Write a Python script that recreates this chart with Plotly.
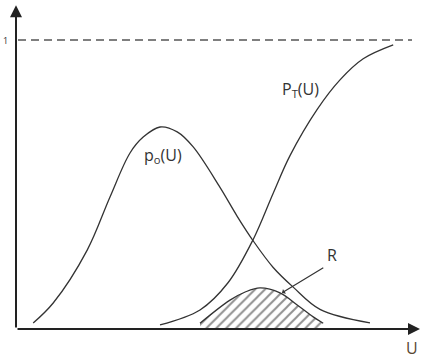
import plotly.graph_objects as go

# p_o(U) curve
u_p0 = [0.43, 0.93, 1.78, 2.35, 2.85, 3.18, 3.6, 4.03, 4.43, 5.1, 5.53, 5.93, 6.43, 6.93, 7.6, 8.85]
p0 = [0.021, 0.09, 0.273, 0.457, 0.609, 0.664, 0.699, 0.682, 0.63, 0.49, 0.39, 0.305, 0.213, 0.145, 0.068, 0.021]

# P_T(U) curve
u_pt = [3.6, 4.6, 5.3, 5.93, 6.43, 6.85, 7.53, 8.1, 8.68, 9.43]
pt = [0.014, 0.066, 0.16, 0.31, 0.47, 0.6, 0.76, 0.862, 0.935, 0.983]

# hatched region R
u_r = [4.6, 5.35, 5.73, 6.1, 6.6, 7.03, 7.43, 7.68]
r = [0.02, 0.10, 0.128, 0.142, 0.125, 0.083, 0.042, 0.02]

LINE = "#333333"
AX = "#555555"

fig = go.Figure()
fig.add_trace(go.Scatter(x=u_r, y=r, mode="lines", line=dict(color=LINE, width=1.3, shape="spline"),
                         fill="tozeroy", fillcolor="rgba(0,0,0,0)",
                         fillpattern=dict(shape="/", size=7, solidity=0.28, fgcolor="#222", bgcolor="rgba(0,0,0,0)"),
                         hoverinfo="skip"))
fig.add_trace(go.Scatter(x=u_p0, y=p0, mode="lines", line=dict(color=LINE, width=1.3, shape="spline"), hoverinfo="skip"))
fig.add_trace(go.Scatter(x=u_pt, y=pt, mode="lines", line=dict(color=LINE, width=1.3, shape="spline"), hoverinfo="skip"))

# dashed line at 1
fig.add_trace(go.Scatter(x=[0.05, 9.9], y=[1, 1], mode="lines", line=dict(color=AX, width=1.5, dash="8px,5px"), hoverinfo="skip"))

ann = []
# axes arrows
ann.append(dict(x=0, y=1.12, ax=0, ay=0, xref="x", yref="y", axref="x", ayref="y", text="",
                showarrow=True, arrowhead=2, arrowsize=1.2, arrowwidth=2, arrowcolor="#222"))
ann.append(dict(x=10.1, y=0, ax=0, ay=0, xref="x", yref="y", axref="x", ayref="y", text="",
                showarrow=True, arrowhead=2, arrowsize=1.2, arrowwidth=2, arrowcolor="#222"))
# R pointer
ann.append(dict(x=6.65, y=0.125, ax=7.72, ay=0.215, xref="x", yref="y", axref="x", ayref="y", text="",
                showarrow=True, arrowhead=1, arrowsize=0.8, arrowwidth=1.2, arrowcolor=LINE))
font = dict(family="Open Sans", size=16, color="#333")
ann.append(dict(x=3.68, y=0.6, xref="x", yref="y", text="p<sub>o</sub>(U)", showarrow=False, font=font))
ann.append(dict(x=7.1, y=0.83, xref="x", yref="y", text="P<sub>T</sub>(U)", showarrow=False, font=font))
ann.append(dict(x=7.9, y=0.255, xref="x", yref="y", text="R", showarrow=False, font=font))
ann.append(dict(x=9.9, y=-0.065, xref="x", yref="y", text="U", showarrow=False, font=dict(family="Open Sans", size=16, color="#5a4632")))
ann.append(dict(x=-0.27, y=1.0, xref="x", yref="y", text="1", showarrow=False, font=dict(family="Open Sans", size=9, color="#333")))

fig.update_layout(
    width=427, height=363, margin=dict(l=0, r=0, t=0, b=0),
    paper_bgcolor="white", plot_bgcolor="white", showlegend=False,
    xaxis=dict(range=[-0.4, 10.275], visible=False, fixedrange=True),
    yaxis=dict(range=[-0.1176, 1.1384], visible=False, fixedrange=True),
    annotations=ann,
)
fig.write_html("out.html")
